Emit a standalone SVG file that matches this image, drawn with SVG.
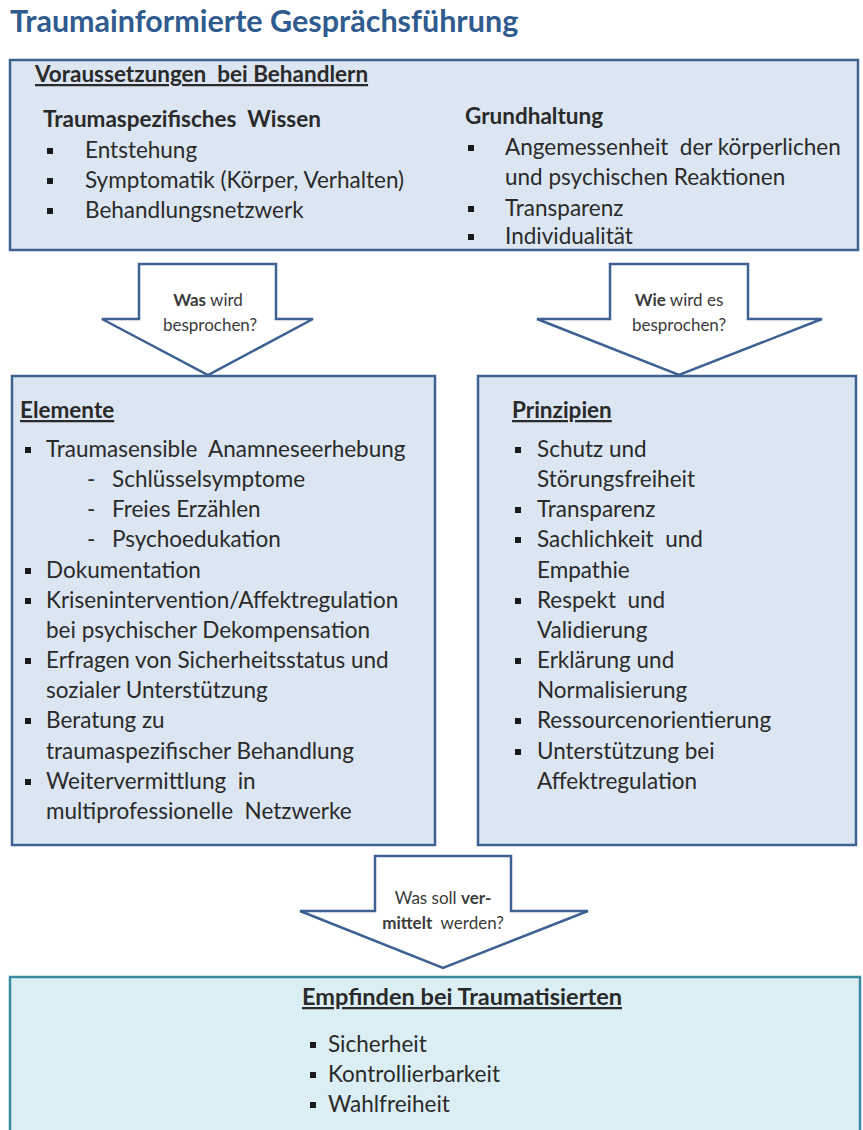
<svg xmlns="http://www.w3.org/2000/svg" width="863" height="1130" viewBox="0 0 863 1130">
<style>
text{white-space:pre}
.t{font-family:Lato,"Liberation Sans",sans-serif;font-size:22.5px;fill:#2a2a2a}
.b{font-weight:bold}
.u{text-decoration:underline}
.s{font-family:Lato,"Liberation Sans",sans-serif;font-size:17px;fill:#3a3a3a}
.box{fill:#dce6f2;stroke:#3d6190;stroke-width:2.5}
.box2{fill:#dbeef4;stroke:#3a8aa0;stroke-width:2.5}
.arr{fill:#fff;stroke:#3d6190;stroke-width:2.5;stroke-linejoin:miter}
.bul{fill:#1a1a1a}
</style>
<defs><rect id="sq" x="-3" y="-3" width="6" height="6" class="bul"/></defs>
<text x="10" y="32" style="font-family:Lato,'Liberation Sans',sans-serif;font-size:30.5px;font-weight:bold;fill:#2f5b8e">Traumainformierte Gesprächsführung</text>

<g id="voraussetzungen">
<rect class="box" x="10" y="60" width="848" height="190"/>
<text class="t b u" x="35" y="82">Voraussetzungen  bei Behandlern</text>
<text class="t b" x="43" y="127">Traumaspezifisches  Wissen</text>
<use href="#sq" x="50" y="151"/><text class="t" x="85" y="158">Entstehung</text>
<use href="#sq" x="50" y="181"/><text class="t" x="85" y="188">Symptomatik (Körper, Verhalten)</text>
<use href="#sq" x="50" y="211"/><text class="t" x="85" y="218">Behandlungsnetzwerk</text>
<text class="t b" x="465" y="124">Grundhaltung</text>
<use href="#sq" x="471" y="148"/><text class="t" x="505" y="155">Angemessenheit  der körperlichen</text>
<text class="t" x="505" y="185">und psychischen Reaktionen</text>
<use href="#sq" x="471" y="209"/><text class="t" x="505" y="216">Transparenz</text>
<use href="#sq" x="471" y="237"/><text class="t" x="505" y="244">Individualität</text>
</g>

<g id="connectors">
<polygon class="arr" points="139,264 276,264 276,319 313,319 208,375 102,319 139,319"/>
<text class="s" x="208" y="306" text-anchor="middle"><tspan font-weight="bold">Was</tspan> wird</text>
<text class="s" x="210" y="331" text-anchor="middle">besprochen?</text>
<polygon class="arr" points="610,264 748,264 748,319 822,319 679,375 537,319 610,319"/>
<text class="s" x="679" y="306" text-anchor="middle"><tspan font-weight="bold">Wie</tspan> wird es</text>
<text class="s" x="679" y="331" text-anchor="middle">besprochen?</text>
<polygon class="arr" points="375,856 511,856 511,911 588,911 443,968 300,911 375,911"/>
<text class="s" x="443" y="904" text-anchor="middle">Was soll <tspan font-weight="bold">ver-</tspan></text>
<text class="s" x="443" y="929" text-anchor="middle"><tspan font-weight="bold">mittelt</tspan>  werden?</text>
</g>

<g id="elemente">
<rect class="box" x="12" y="376" width="423" height="469"/>
<text class="t b u" x="20" y="418">Elemente</text>
<use href="#sq" x="28" y="450"/><text class="t" x="46" y="457">Traumasensible  Anamneseerhebung</text>
<text class="t" x="87" y="487">-</text><text class="t" x="112" y="487">Schlüsselsymptome</text>
<text class="t" x="87" y="517">-</text><text class="t" x="112" y="517">Freies Erzählen</text>
<text class="t" x="87" y="547">-</text><text class="t" x="112" y="547">Psychoedukation</text>
<use href="#sq" x="28" y="571"/><text class="t" x="46" y="578">Dokumentation</text>
<use href="#sq" x="28" y="601"/><text class="t" x="46" y="608">Krisenintervention/Affektregulation</text>
<text class="t" x="46" y="638">bei psychischer Dekompensation</text>
<use href="#sq" x="28" y="661"/><text class="t" x="46" y="668">Erfragen von Sicherheitsstatus und</text>
<text class="t" x="46" y="698">sozialer Unterstützung</text>
<use href="#sq" x="28" y="721"/><text class="t" x="46" y="728">Beratung zu</text>
<text class="t" x="46" y="759">traumaspezifischer Behandlung</text>
<use href="#sq" x="28" y="782"/><text class="t" x="46" y="789">Weitervermittlung  in</text>
<text class="t" x="46" y="819">multiprofessionelle  Netzwerke</text>
</g>

<g id="prinzipien">
<rect class="box" x="478" y="376" width="378" height="469"/>
<text class="t b u" x="512" y="418">Prinzipien</text>
<use href="#sq" x="518" y="450"/><text class="t" x="537" y="457">Schutz und</text>
<text class="t" x="537" y="487">Störungsfreiheit</text>
<use href="#sq" x="518" y="510"/><text class="t" x="537" y="517">Transparenz</text>
<use href="#sq" x="518" y="540"/><text class="t" x="537" y="547">Sachlichkeit  und</text>
<text class="t" x="537" y="578">Empathie</text>
<use href="#sq" x="518" y="601"/><text class="t" x="537" y="608">Respekt  und</text>
<text class="t" x="537" y="638">Validierung</text>
<use href="#sq" x="518" y="661"/><text class="t" x="537" y="668">Erklärung und</text>
<text class="t" x="537" y="698">Normalisierung</text>
<use href="#sq" x="518" y="721"/><text class="t" x="537" y="728">Ressourcenorientierung</text>
<use href="#sq" x="518" y="752"/><text class="t" x="537" y="759">Unterstützung bei</text>
<text class="t" x="537" y="789">Affektregulation</text>
</g>

<g id="empfinden">
<rect class="box2" x="10" y="977" width="850" height="160"/>
<text class="t b u" x="302" y="1005" textLength="320" lengthAdjust="spacingAndGlyphs">Empfinden bei Traumatisierten</text>
<use href="#sq" x="313" y="1045"/><text class="t" x="328" y="1052">Sicherheit</text>
<use href="#sq" x="313" y="1075"/><text class="t" x="328" y="1082">Kontrollierbarkeit</text>
<use href="#sq" x="313" y="1105"/><text class="t" x="328" y="1112">Wahlfreiheit</text>
</g>
</svg>
